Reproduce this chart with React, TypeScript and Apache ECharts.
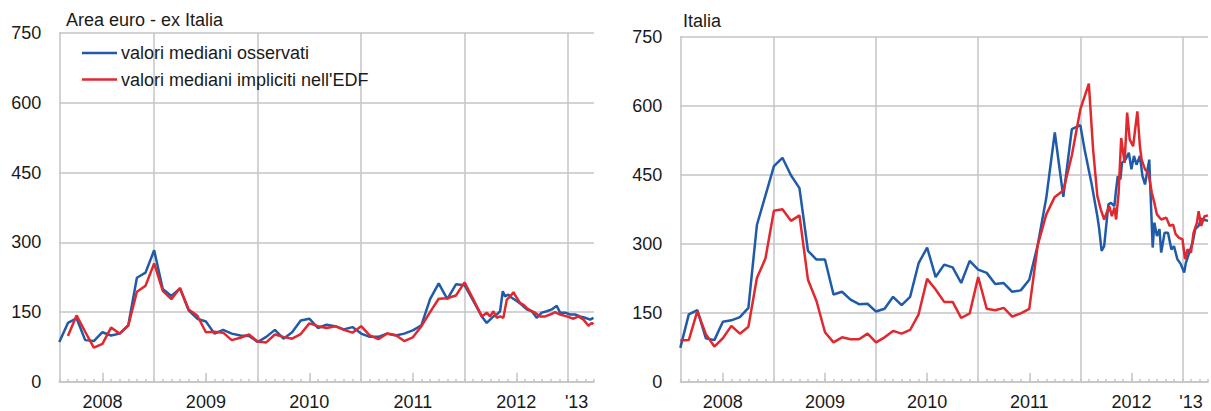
import React, { useEffect, useRef } from "react";
import * as echarts from "echarts";

// x values are months elapsed since 1 Jan 2008 (1 = Feb 2008, 12 = Jan 2009, 63 = Apr 2013)
const xMin = 1;
const xMax = 63;
const yearGridMonths = [12, 24, 36, 48, 60];
const yearLabelMonths = [6, 18, 30, 42, 54, 61];
const yearLabels = ["2008", "2009", "2010", "2011", "2012", "'13"];
const midYearTickMonths = [6, 18, 30, 42, 54];
const yMin = 0;
const yMax = 750;
const yStep = 150;

const seriesNames = ["valori mediani osservati", "valori mediani impliciti nell'EDF"];
const panelTitles = ["Area euro - ex Italia", "Italia"];

// ---- Area euro - ex Italia ----
const euroObsStart = 1;
const euroObsMonthly = [
  86, 127, 137, 90, 88, 107, 100, 104, 122, 224,
  235, 283, 200, 185, 201, 154, 136, 130, 104, 112,
  104, 100, 99, 86, 97, 112, 93, 107, 132, 136,
  116, 123, 120, 113, 118, 104, 97, 97, 104, 100,
  104, 111, 122, 178, 212, 178, 210, 208, 175,
];
const euroObsDailyX = [
  50.0, 50.57, 50.96, 51.35, 51.73, 52.12, 52.43, 52.7, 53.09, 53.47,
  54.05, 54.63, 55.21, 55.79, 56.37, 56.95, 57.53, 58.11, 58.69, 59.08,
  59.66, 60.24, 60.82, 61.4, 61.98, 62.56, 62.95,
];
const euroObsDailyY = [
  141, 127, 134, 141, 145, 152, 195, 184, 188, 181,
  174, 166, 156, 152, 138, 149, 152, 156, 164, 149,
  149, 145, 145, 141, 138, 134, 138,
];
const euroEdfStart = 2;
const euroEdfMonthly = [
  99, 143, 108, 74, 82, 117, 104, 121, 194,
  207, 255, 196, 178, 202, 156, 143, 107, 108, 106,
  90, 95, 102, 87, 85, 102, 97, 93, 103, 126,
  120, 116, 120, 112, 106, 120, 100, 92, 104, 101,
  88, 96, 120, 150, 179, 180, 186, 214, 178,
];
const euroEdfDailyX = [
  50.0, 50.57, 50.96, 51.35, 51.73, 52.12, 52.5, 52.9, 53.3, 53.67,
  54.05, 54.44, 54.82, 55.21, 55.79, 56.18, 56.76, 57.34, 57.92, 58.5,
  59.08, 59.85, 60.63, 61.21, 61.79, 62.37, 62.76, 62.95,
];
const euroEdfDailyY = [
  141, 149, 141, 152, 138, 141, 138, 177, 184, 193,
  181, 170, 166, 159, 152, 149, 141, 141, 145, 150,
  145, 141, 136, 141, 134, 121, 127, 124,
];

// ---- Italia ----
const itaObsStart = 1;
const itaObsMonthly = [
  74, 147, 156, 95, 91, 131, 134, 141, 161, 341,
  405, 469, 487, 449, 421, 285, 266, 266, 190, 196,
  179, 169, 170, 153, 159, 185, 167, 185, 258, 292,
  228, 255, 249, 215, 263, 244, 237, 213, 215, 196,
  199, 222, 298, 400, 542, 402, 549, 558,
];
const itaObsDailyX = [
  48.5, 49.3, 50.0, 50.2, 50.5, 50.8, 51.0, 51.3, 51.6, 52.0,
  52.2, 52.4, 52.7, 52.9, 53.3, 53.7, 54.0, 54.3, 54.6, 55.0,
  55.3, 55.6, 55.9, 56.1, 56.2, 56.5, 56.7, 57.0, 57.3, 57.5,
  57.9, 58.3, 58.7, 59.0, 59.4, 59.8, 60.2, 60.4, 60.8, 61.2,
  61.5, 61.9, 62.2, 62.6, 63.0,
];
const itaObsDailyY = [
  505, 433, 360, 335, 285, 295, 332, 386, 389, 382,
  418, 447, 440, 476, 483, 498, 462, 491, 472, 491,
  447, 429, 462, 483, 433, 292, 346, 317, 332, 281,
  324, 324, 288, 295, 267, 256, 238, 259, 281, 303,
  332, 339, 355, 352, 350,
];
const itaEdfStart = 1;
const itaEdfMonthly = [
  90, 91, 154, 104, 77, 95, 122, 105, 120, 226,
  268, 372, 375, 350, 362, 222, 176, 108, 86, 97,
  93, 93, 105, 86, 97, 111, 105, 113, 147, 224,
  201, 174, 174, 139, 149, 228, 159, 156, 161, 142,
  149, 159, 298, 364, 402, 416, 492, 592, 648,
];
const itaEdfDailyX = [
  49.5, 50.0, 50.4, 50.8, 51.1, 51.4, 51.7, 52.0, 52.2, 52.5,
  52.8, 53.2, 53.5, 53.8, 54.2, 54.7, 55.0, 55.2, 55.6, 56.0,
  56.4, 56.7, 57.0, 57.5, 58.1, 58.5, 58.9, 59.2, 59.6, 60.0,
  60.3, 60.6, 61.0, 61.3, 61.7, 61.9, 62.2, 62.6, 63.0,
];
const itaEdfDailyY = [
  505, 404, 375, 353, 368, 382, 360, 379, 353, 411,
  530, 476, 585, 527, 512, 588, 512, 483, 462, 454,
  411, 389, 364, 353, 357, 339, 342, 321, 313, 310,
  267, 288, 281, 324, 346, 371, 339, 360, 362,
];

const BLUE = "#1f5ba8";
const RED = "#e0282e";
const GRID = "#c4c4c9";
const TEXT = "#1a1a1a";
const FONT = "'Liberation Sans', Arial, sans-serif";

function buildPairs(start: number, monthly: number[], dx: number[], dy: number[]) {
  const out: number[][] = monthly.map((v, i) => [start + i, v]);
  dx.forEach((x, i) => out.push([x, dy[i]]));
  return out;
}

function xLabel(val: number) {
  const r = Math.round(val);
  if (Math.abs(val - r) > 1e-6) return "";
  const i = yearLabelMonths.indexOf(r);
  return i >= 0 ? yearLabels[i] : "";
}

function markLines(tickHeight: number) {
  return {
    silent: true,
    z: 1,
    symbol: ["none", "none"],
    label: { show: false },
    emphasis: { disabled: true },
    lineStyle: { color: GRID, width: 1.5, type: "solid" },
    data: [
      ...yearGridMonths.map((m) => ({ xAxis: m })),
      ...midYearTickMonths.map((m) => [{ coord: [m, 0] }, { coord: [m, tickHeight] }]),
    ],
  };
}

export default function App() {
  const ref = useRef<HTMLDivElement>(null);
  useEffect(() => {
    if (!ref.current) return;
    const chart = echarts.init(ref.current, null, { renderer: "svg" });
    const xAxisBase = (gridIndex: number) => ({
      type: "value",
      gridIndex,
      min: xMin,
      max: xMax,
      interval: 1,
      axisLine: { show: true, lineStyle: { color: GRID, width: 1.5 } },
      axisTick: { show: true, inside: true, length: 3, lineStyle: { color: GRID, width: 1.5 } },
      axisLabel: {
        show: true,
        formatter: xLabel,
        margin: 11,
        fontSize: 18,
        fontFamily: FONT,
        color: TEXT,
      },
      splitLine: { show: false },
    });
    const yAxisBase = (gridIndex: number) => ({
      type: "value",
      gridIndex,
      min: yMin,
      max: yMax,
      interval: yStep,
      axisLine: { show: true, lineStyle: { color: GRID, width: 1.5 } },
      axisTick: { show: false },
      axisLabel: { margin: 18, fontSize: 18, fontFamily: FONT, color: TEXT },
      splitLine: { show: true, lineStyle: { color: GRID, width: 1.5 } },
    });
    const lineSeries = (name: string, color: string, idx: number, data: number[][], withMarks: boolean, tickH: number) => ({
      type: "line",
      name,
      xAxisIndex: idx,
      yAxisIndex: idx,
      data,
      symbol: "none",
      showSymbol: false,
      z: 3,
      lineStyle: { color, width: 2.5 },
      itemStyle: { color },
      emphasis: { disabled: true },
      ...(withMarks ? { markLine: markLines(tickH) } : {}),
    });
    chart.setOption({
      animation: false,
      textStyle: { fontFamily: FONT },
      title: [
        {
          text: panelTitles[0],
          left: 66,
          top: 11,
          padding: 0,
          textStyle: { fontSize: 18, fontWeight: "normal", color: TEXT, fontFamily: FONT },
        },
        {
          text: panelTitles[1],
          left: 683,
          top: 12,
          padding: 0,
          textStyle: { fontSize: 18, fontWeight: "normal", color: TEXT, fontFamily: FONT },
        },
      ],
      legend: {
        left: 82,
        top: 44,
        orient: "vertical",
        padding: 0,
        icon: "rect",
        itemWidth: 35,
        itemHeight: 2.5,
        itemGap: 8.5,
        selectedMode: false,
        data: seriesNames,
        textStyle: { fontSize: 18, color: TEXT, fontFamily: FONT, padding: [0, 0, 0, -1] },
      },
      grid: [
        { left: 59.3, top: 33, width: 534.6, height: 350 },
        { left: 680.3, top: 36.7, width: 537.5, height: 346.3 },
      ],
      xAxis: [xAxisBase(0), xAxisBase(1)],
      yAxis: [yAxisBase(0), yAxisBase(1)],
      series: [
        lineSeries(seriesNames[0], BLUE, 0, buildPairs(euroObsStart, euroObsMonthly, euroObsDailyX, euroObsDailyY), true, 20),
        lineSeries(seriesNames[1], RED, 0, buildPairs(euroEdfStart, euroEdfMonthly, euroEdfDailyX, euroEdfDailyY), false, 20),
        lineSeries(seriesNames[0], BLUE, 1, buildPairs(itaObsStart, itaObsMonthly, itaObsDailyX, itaObsDailyY), true, 20),
        lineSeries(seriesNames[1], RED, 1, buildPairs(itaEdfStart, itaEdfMonthly, itaEdfDailyX, itaEdfDailyY), false, 20),
      ],
    });
    return () => chart.dispose();
  }, []);
  return (
    <div
      ref={ref}
      style={{ position: "fixed", left: 0, top: 0, width: 1211, height: 411, background: "#fff" }}
    />
  );
}
